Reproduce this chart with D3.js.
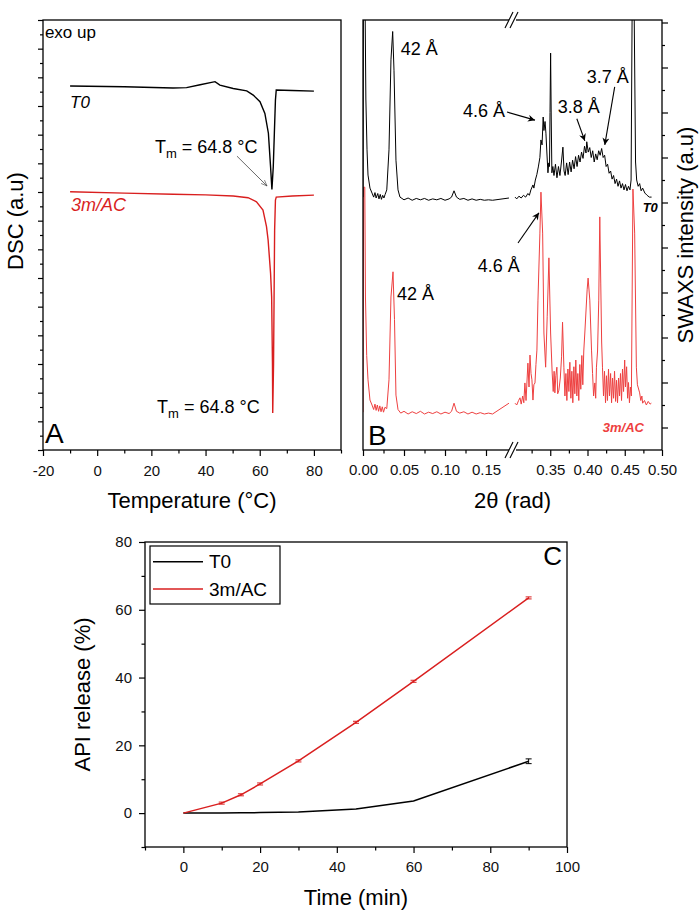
<!DOCTYPE html>
<html>
<head>
<meta charset="utf-8">
<script src="https://cdn.jsdelivr.net/npm/d3@7"></script>
<style>
  body { margin: 0; background: #fff; }
  svg { display: block; }
</style>
</head>
<body>
<script>
// ---------- panel A : DSC traces [temperature °C, signal a.u.] ----------
const dscT0 = [
  [-10, 12.70], [10, 12.67], [28, 12.63], [33, 12.64], [38, 12.74], [43.5, 12.85], [45.3, 12.73],
  [50.2, 12.61], [55.2, 12.53], [57.6, 12.38], [60.1, 12.15], [61.9, 11.74], [63.2, 11.05],
  [64.0, 9.88], [64.5, 9.09], [65.0, 9.88], [65.4, 11.05], [65.8, 12.21], [66.1, 12.56],
  [72, 12.54], [80, 12.52]
];
const dsc3m = [
  [-10, 9.01], [10, 8.96], [28, 8.92], [40, 8.90], [50.2, 8.86], [55.7, 8.80], [58.8, 8.66],
  [61.2, 8.37], [62.5, 7.79], [63.1, 7.32], [64.0, 6.17], [64.4, 5.34], [64.7, 3.0], [64.8, 1.29],
  [65.1, 3.0], [65.3, 5.34], [65.5, 7.67], [65.8, 8.72], [66.1, 8.82], [72, 8.86], [80, 8.89]
];
const dscXTicks = [-20, 0, 20, 40, 60, 80];

// ---------- panel B : SWAXS traces [2θ rad, intensity a.u.] ----------
const swaxsT0Low = [
  [0.000, 5.62], [0.0005, 10], [0.0025, 10], [0.0035, 7.8], [0.0049, 6.67], [0.0061, 6.11],
  [0.0085, 5.82], [0.011, 5.71], [0.013, 5.62], [0.0146, 5.72], [0.016, 5.60], [0.018, 5.70],
  [0.0195, 5.58], [0.021, 5.68], [0.0225, 5.57], [0.024, 5.66], [0.0255, 5.60], [0.027, 5.68],
  [0.029, 5.78], [0.0317, 6.67], [0.0341, 8.67], [0.0362, 9.30], [0.0378, 8.44], [0.0402, 6.44],
  [0.0427, 5.78], [0.0451, 5.62], [0.05, 5.56], [0.055, 5.60], [0.06, 5.55], [0.065, 5.59],
  [0.07, 5.56], [0.075, 5.59], [0.08, 5.55], [0.085, 5.58], [0.09, 5.56], [0.095, 5.59],
  [0.1, 5.55], [0.105, 5.58], [0.108, 5.62], [0.111, 5.76], [0.114, 5.62], [0.118, 5.57],
  [0.123, 5.59], [0.128, 5.55], [0.133, 5.58], [0.138, 5.55], [0.143, 5.57], [0.148, 5.55],
  [0.153, 5.56], [0.158, 5.55], [0.178, 5.60]
];
const swaxsT0High = [
  [0.3027, 5.62], [0.305, 5.58], [0.308, 5.64], [0.311, 5.60], [0.314, 5.66], [0.317, 5.62],
  [0.320, 5.70], [0.322, 5.66], [0.324, 5.78], [0.3268, 5.89], [0.328, 5.82], [0.330, 6.00],
  [0.332, 6.12], [0.334, 6.29], [0.3361, 6.50], [0.3375, 6.89], [0.339, 6.78], [0.3405, 7.40],
  [0.3415, 7.10], [0.343, 7.30], [0.3442, 7.04], [0.3455, 6.60], [0.3469, 6.16], [0.348, 6.38],
  [0.349, 6.30], [0.3497, 7.5], [0.3505, 8.82], [0.3513, 7.4], [0.3522, 6.16], [0.3535, 6.30],
  [0.355, 6.10], [0.357, 6.35], [0.359, 6.05], [0.361, 6.30], [0.363, 6.10], [0.365, 6.40],
  [0.367, 6.73], [0.3685, 6.20], [0.370, 6.10], [0.372, 6.38], [0.374, 6.12], [0.376, 6.40],
  [0.378, 6.18], [0.380, 6.44], [0.382, 6.25], [0.384, 6.52], [0.386, 6.30], [0.388, 6.55],
  [0.390, 6.40], [0.392, 6.62], [0.394, 6.48], [0.396, 6.75], [0.398, 6.60], [0.399, 6.85],
  [0.401, 6.62], [0.403, 6.72], [0.405, 6.50], [0.407, 6.65], [0.409, 6.40], [0.411, 6.58],
  [0.413, 6.45], [0.415, 6.65], [0.417, 6.55], [0.419, 6.70], [0.421, 6.50], [0.423, 6.55],
  [0.425, 6.30], [0.427, 6.35], [0.429, 6.15], [0.431, 6.20], [0.433, 6.02], [0.435, 6.10],
  [0.437, 5.92], [0.439, 6.02], [0.441, 5.86], [0.443, 5.98], [0.445, 5.82], [0.447, 5.92],
  [0.449, 5.78], [0.451, 5.90], [0.453, 5.76], [0.455, 5.86], [0.457, 5.78], [0.4585, 6.0],
  [0.4600, 10], [0.4625, 10], [0.4645, 6.40], [0.466, 6.00], [0.468, 5.86], [0.470, 5.92],
  [0.472, 5.76], [0.474, 5.82], [0.477, 5.71], [0.480, 5.66], [0.483, 5.62], [0.486, 5.62]
];
const swaxs3mLow = [
  [0.0, 0.84], [0.0008, 5.84], [0.0022, 5.84], [0.003, 3.4], [0.0045, 2.1], [0.0061, 1.56],
  [0.0085, 1.11], [0.011, 1.00], [0.013, 0.90], [0.0146, 1.02], [0.016, 0.88], [0.0175, 1.00],
  [0.019, 0.86], [0.0205, 0.98], [0.022, 0.85], [0.0235, 0.96], [0.025, 0.84], [0.0268, 0.95],
  [0.029, 0.92], [0.0317, 1.56], [0.0341, 3.4], [0.0366, 3.96], [0.0384, 2.9], [0.0402, 1.22],
  [0.0427, 0.90], [0.046, 0.82], [0.05, 0.86], [0.055, 0.80], [0.06, 0.85], [0.065, 0.81],
  [0.07, 0.86], [0.075, 0.80], [0.08, 0.84], [0.085, 0.81], [0.09, 0.85], [0.095, 0.80],
  [0.1, 0.84], [0.105, 0.81], [0.108, 0.86], [0.111, 1.04], [0.114, 0.86], [0.118, 0.82],
  [0.123, 0.85], [0.128, 0.80], [0.133, 0.84], [0.138, 0.80], [0.143, 0.83], [0.148, 0.80],
  [0.153, 0.82], [0.158, 0.80], [0.178, 1.04]
];
const swaxs3mHigh = [
  [0.3027, 1.04], [0.305, 1.00], [0.3075, 1.10], [0.3094, 1.16], [0.311, 1.02], [0.313, 1.20],
  [0.3145, 1.05], [0.316, 1.49], [0.3175, 1.10], [0.319, 1.60], [0.320, 1.93], [0.3215, 1.40],
  [0.3228, 2.11], [0.3242, 1.70], [0.3254, 1.56], [0.3268, 1.11], [0.328, 1.45], [0.3295, 1.49],
  [0.3308, 1.90], [0.3321, 2.22], [0.3335, 3.33], [0.3361, 4.82], [0.3375, 5.73], [0.3398, 4.82],
  [0.3415, 2.60], [0.3438, 1.84], [0.3459, 2.96], [0.3482, 4.27], [0.3505, 2.60], [0.3526, 1.71],
  [0.354, 1.30], [0.3552, 1.75], [0.3562, 1.27], [0.3575, 1.65], [0.3589, 1.84], [0.360, 1.25],
  [0.3616, 1.33], [0.3635, 1.60], [0.3652, 2.07], [0.3665, 2.84], [0.3683, 1.84], [0.3697, 1.20],
  [0.371, 1.70], [0.3723, 1.10], [0.3737, 1.80], [0.375, 1.30], [0.3763, 1.95], [0.3777, 1.15],
  [0.379, 1.75], [0.3803, 1.05], [0.3817, 1.85], [0.383, 1.25], [0.3843, 2.00], [0.3857, 1.20],
  [0.387, 1.70], [0.3883, 1.10], [0.3897, 1.90], [0.391, 1.35], [0.3924, 2.10], [0.3937, 1.45],
  [0.395, 2.20], [0.3964, 2.60], [0.3995, 3.56], [0.4008, 3.82], [0.4031, 3.33], [0.4054, 2.22],
  [0.4068, 1.70], [0.4082, 1.20], [0.4098, 1.49], [0.411, 1.15], [0.412, 1.84], [0.4135, 2.20],
  [0.4151, 3.33], [0.4165, 5.18], [0.4178, 3.71], [0.419, 2.40], [0.4201, 1.84], [0.4215, 1.20],
  [0.4228, 1.75], [0.4242, 1.05], [0.4255, 1.65], [0.4268, 1.10], [0.4282, 1.80], [0.4295, 1.20],
  [0.431, 1.70], [0.4323, 1.05], [0.4336, 1.60], [0.435, 1.15], [0.4363, 1.75], [0.4377, 1.08],
  [0.439, 1.55], [0.4403, 1.05], [0.4417, 1.60], [0.443, 1.20], [0.4443, 1.70], [0.4457, 1.10],
  [0.447, 1.80], [0.4484, 1.30], [0.4499, 2.00], [0.451, 1.40], [0.4525, 1.85], [0.4538, 1.15],
  [0.455, 1.50], [0.4563, 1.05], [0.4576, 1.40], [0.4589, 1.20], [0.461, 5.8], [0.4633, 4.82],
  [0.4656, 1.84], [0.467, 1.45], [0.47, 1.27], [0.4715, 1.10], [0.473, 1.20], [0.474, 1.04],
  [0.4765, 1.10], [0.479, 1.00], [0.4815, 1.08], [0.484, 1.02], [0.4857, 1.04]
];
const swaxsTicksLow = [0, 0.05, 0.10, 0.15];
const swaxsTicksHigh = [0.35, 0.40, 0.45, 0.50];

// ---------- panel C : release profiles ----------
const releaseTime = [0, 10, 15, 20, 30, 45, 60, 90];
const releaseT0 = [0, 0.05, 0.1, 0.15, 0.35, 1.2, 3.6, 15.3];
const releaseT0Err = [0, 0, 0, 0, 0, 0, 0, 0.7];
const release3m = [0, 2.95, 5.4, 8.6, 15.4, 26.8, 38.9, 63.5];
const release3mErr = [0, 0.3, 0.3, 0.3, 0.3, 0.3, 0.3, 0.3];
const releaseNames = ['T0', '3m/AC'];
const releaseXTicks = [0, 20, 40, 60, 80, 100];
const releaseYTicks = [0, 20, 40, 60, 80];

const RED = '#d91f1f';
const RED_B = '#ee4040';
const W = 699, H = 924;

const svg = d3.select('body').append('svg')
  .attr('width', W).attr('height', H)
  .style('font-family', '"Liberation Sans", Arial, Helvetica, sans-serif');

const defs = svg.append('defs');
defs.append('marker').attr('id', 'headB')
  .attr('viewBox', '0 0 10 10').attr('refX', 10).attr('refY', 5)
  .attr('markerWidth', 10).attr('markerHeight', 7).attr('markerUnits', 'userSpaceOnUse')
  .attr('orient', 'auto')
  .append('path').attr('d', 'M0,0 L10,5 L0,10 L3,5 Z').attr('fill', '#000');
defs.append('marker').attr('id', 'headA')
  .attr('viewBox', '0 0 10 10').attr('refX', 10).attr('refY', 5)
  .attr('markerWidth', 7).attr('markerHeight', 6).attr('markerUnits', 'userSpaceOnUse')
  .attr('orient', 'auto')
  .append('path').attr('d', 'M0,1 L10,5 L0,9').attr('fill', 'none').attr('stroke', '#444');

function addAxis(axis, transform, size) {
  const g = svg.append('g').attr('transform', transform).call(axis);
  g.attr('font-family', null).attr('font-size', size || 15);
  g.select('.domain').remove();
  g.selectAll('line').attr('stroke', '#000').attr('stroke-width', 1.2);
  g.selectAll('text').attr('fill', '#111');
  return g;
}
function frame(b) {
  svg.append('rect').attr('x', b.x0).attr('y', b.y0)
    .attr('width', b.x1 - b.x0).attr('height', b.y1 - b.y0)
    .attr('fill', 'none').attr('stroke', '#000').attr('stroke-width', 1.3);
}
function label(x, y, txt, size, opts) {
  opts = opts || {};
  return svg.append('text').attr('x', x).attr('y', y)
    .attr('font-size', size)
    .attr('fill', opts.fill || '#000')
    .attr('font-style', opts.italic ? 'italic' : null)
    .attr('font-weight', opts.bold ? 'bold' : null)
    .attr('text-anchor', opts.anchor || 'start')
    .text(txt);
}

// ===================== Panel A =====================
const boxA = { x0: 43, x1: 341, y0: 20, y1: 450 };
const xA = d3.scaleLinear().domain([-20, 90]).range([boxA.x0, boxA.x1]);
const yA = d3.scaleLinear().domain([0, 15]).range([boxA.y1, boxA.y0]);

addAxis(d3.axisBottom(xA).tickValues(dscXTicks).tickSize(6).tickPadding(9).tickFormat(d => String(d)),
  `translate(0,${boxA.y1})`);
addAxis(d3.axisBottom(xA).tickValues([-10, 10, 30, 50, 70, 90]).tickSize(3.5).tickFormat(''),
  `translate(0,${boxA.y1})`);
addAxis(d3.axisLeft(yA).tickValues(d3.range(0, 15.5, 1)).tickSize(5).tickFormat(''),
  `translate(${boxA.x0},0)`);
addAxis(d3.axisLeft(yA).tickValues(d3.range(0.5, 15, 1)).tickSize(3).tickFormat(''),
  `translate(${boxA.x0},0)`);

const lineA = d3.line().x(d => xA(d[0])).y(d => yA(d[1]));
svg.append('path').datum(dscT0).attr('d', lineA).attr('fill', 'none').attr('stroke', '#000').attr('stroke-width', 1.4);
svg.append('path').datum(dsc3m).attr('d', lineA).attr('fill', 'none').attr('stroke', RED).attr('stroke-width', 1.4);
frame(boxA);

label(xA(-19.3), yA(14.37), 'exo up', 17);
label(xA(-10), yA(11.93), 'T0', 17, { italic: true });
label(xA(-9.7), yA(8.34), '3m/AC', 18, { italic: true, fill: RED });
label(-25, -5, '', 1);
function tmLabel(x, y) {
  const t = svg.append('text').attr('x', x).attr('y', y).attr('font-size', 18).attr('fill', '#000');
  t.append('tspan').text('T');
  t.append('tspan').attr('dy', 5).attr('font-size', 13).text('m');
  t.append('tspan').attr('dy', -5).text(' = 64.8 °C');
}
tmLabel(xA(21.3), yA(10.36));
tmLabel(xA(22.1), yA(1.29));
svg.append('line')
  .attr('x1', xA(51.6)).attr('y1', yA(10.25)).attr('x2', xA(62.7)).attr('y2', yA(9.21))
  .attr('stroke', '#444').attr('stroke-width', 0.8).attr('marker-end', 'url(#headA)');
label(xA(-19.3), yA(0.24), 'A', 28);

svg.append('text').attr('x', (boxA.x0 + boxA.x1) / 2).attr('y', 508)
  .attr('text-anchor', 'middle').attr('font-size', 22).text('Temperature (°C)');
svg.append('text').attr('transform', 'translate(23,221) rotate(-90)')
  .attr('text-anchor', 'middle').attr('font-size', 22).text('DSC (a.u)');

// ===================== Panel B =====================
const boxB = { x0: 363, x1: 662, y0: 20, y1: 450 };
const xB1 = d3.scaleLinear().domain([0, 0.18]).range([363, 510.6]);
const xB2 = d3.scaleLinear().domain([0.30, 0.50]).range([513, 662]);
const xB = v => (v < 0.24 ? xB1(v) : xB2(v));
const yB = d3.scaleLinear().domain([0, 430 / 45]).range([boxB.y1, boxB.y0]);

addAxis(d3.axisBottom(xB1).tickValues(swaxsTicksLow).tickSize(6).tickPadding(8).tickFormat(d3.format('.2f')),
  `translate(0,${boxB.y1})`);
addAxis(d3.axisBottom(xB2).tickValues(swaxsTicksHigh).tickSize(6).tickPadding(8).tickFormat(d3.format('.2f')),
  `translate(0,${boxB.y1})`);
addAxis(d3.axisBottom(xB1).tickValues([0.025, 0.075, 0.125]).tickSize(3.5).tickFormat(''),
  `translate(0,${boxB.y1})`);
addAxis(d3.axisBottom(xB2).tickValues([0.325, 0.375, 0.425, 0.475]).tickSize(3.5).tickFormat(''),
  `translate(0,${boxB.y1})`);
addAxis(d3.axisRight(yB).tickValues(d3.range(0.5, 9.6, 1)).tickSize(6).tickFormat(''),
  `translate(${boxB.x1},0)`);
addAxis(d3.axisRight(yB).tickValues(d3.range(1, 9.6, 1)).tickSize(3).tickFormat(''),
  `translate(${boxB.x1},0)`);

defs.append('clipPath').attr('id', 'clipB').append('rect')
  .attr('x', boxB.x0).attr('y', boxB.y0).attr('width', boxB.x1 - boxB.x0).attr('height', boxB.y1 - boxB.y0);
const gB = svg.append('g').attr('clip-path', 'url(#clipB)');
const lineB = d3.line().x(d => xB(d[0])).y(d => yB(d[1]));
[[swaxs3mLow, RED_B], [swaxs3mHigh, RED_B], [swaxsT0Low, '#000'], [swaxsT0High, '#000']].forEach(([data, c]) => {
  gB.append('path').datum(data).attr('d', lineB)
    .attr('fill', 'none').attr('stroke', c).attr('stroke-width', 1).attr('stroke-linejoin', 'round');
});
frame(boxB);

// axis break marks
[boxB.y0, boxB.y1].forEach(y => {
  svg.append('rect').attr('x', 509).attr('y', y - 2).attr('width', 7).attr('height', 4).attr('fill', '#fff');
  [0, 5].forEach(dx => {
    svg.append('line').attr('x1', 505 + dx).attr('y1', y + 8).attr('x2', 513 + dx).attr('y2', y - 8)
      .attr('stroke', '#000').attr('stroke-width', 1.1);
  });
});

label(xB(0.046), yB(8.78), '42 Å', 18);
label(xB(0.122), yB(7.4), '4.6 Å', 18);
label(xB(0.3602), yB(7.49), '3.8 Å', 18);
label(xB(0.399), yB(8.16), '3.7 Å', 18);
label(xB(0.140), yB(3.96), '4.6 Å', 18);
label(xB(0.0415), yB(3.33), '42 Å', 18);
label(xB(0.474), yB(5.29), 'T0', 13, { italic: true, bold: true });
label(xB(0.4205), yB(0.4), '3m/AC', 13, { italic: true, bold: true, fill: RED_B });
label(xB(0.006), yB(0.11), 'B', 28);

const arrowsB = [
  [0.1756, 7.51, 0.3295, 7.33],
  [0.3857, 7.36, 0.3964, 6.87],
  [0.4365, 8.07, 0.4232, 6.78],
  [0.3067, 4.6, 0.3348, 5.27]
];
arrowsB.forEach(a => {
  svg.append('line').attr('x1', xB(a[0])).attr('y1', yB(a[1])).attr('x2', xB(a[2])).attr('y2', yB(a[3]))
    .attr('stroke', '#000').attr('stroke-width', 1.1).attr('marker-end', 'url(#headB)');
});

svg.append('text').attr('x', (boxB.x0 + boxB.x1) / 2).attr('y', 508)
  .attr('text-anchor', 'middle').attr('font-size', 22).text('2θ (rad)');
svg.append('text').attr('transform', 'translate(693,235) rotate(-90)')
  .attr('text-anchor', 'middle').attr('font-size', 22).text('SWAXS intensity (a.u)');

// ===================== Panel C =====================
const boxC = { x0: 145, x1: 567, y0: 542, y1: 847 };
const xC = d3.scaleLinear().domain([-10, 100]).range([boxC.x0, boxC.x1]);
const yC = d3.scaleLinear().domain([-10, 80]).range([boxC.y1, boxC.y0]);

addAxis(d3.axisBottom(xC).tickValues(releaseXTicks).tickSize(6).tickPadding(8).tickFormat(d => String(d)),
  `translate(0,${boxC.y1})`);
addAxis(d3.axisBottom(xC).tickValues([-10, 10, 30, 50, 70, 90]).tickSize(3.5).tickFormat(''),
  `translate(0,${boxC.y1})`);
addAxis(d3.axisLeft(yC).tickValues(releaseYTicks).tickSize(6).tickPadding(7).tickFormat(d => String(d)),
  `translate(${boxC.x0},0)`);
addAxis(d3.axisLeft(yC).tickValues([-10, 10, 30, 50, 70]).tickSize(3.5).tickFormat(''),
  `translate(${boxC.x0},0)`);

const seriesC = [
  { name: releaseNames[0], vals: releaseT0, err: releaseT0Err, color: '#000' },
  { name: releaseNames[1], vals: release3m, err: release3mErr, color: RED }
];
const lineC = d3.line().x(d => xC(d.t)).y(d => yC(d.v));
seriesC.forEach(s => {
  const pts = releaseTime.map((t, i) => ({ t, v: s.vals[i], e: s.err[i] }));
  svg.append('path').datum(pts).attr('d', lineC).attr('fill', 'none')
    .attr('stroke', s.color).attr('stroke-width', 1.5);
  const eb = svg.append('g').attr('stroke', s.color).attr('stroke-width', 1);
  pts.filter(p => p.e > 0).forEach(p => {
    const x = xC(p.t), y0 = yC(p.v - p.e), y1 = yC(p.v + p.e);
    eb.append('line').attr('x1', x).attr('x2', x).attr('y1', y0).attr('y2', y1);
    eb.append('line').attr('x1', x - 3).attr('x2', x + 3).attr('y1', y0).attr('y2', y0);
    eb.append('line').attr('x1', x - 3).attr('x2', x + 3).attr('y1', y1).attr('y2', y1);
  });
});
frame(boxC);

const leg = svg.append('g').attr('transform', `translate(${boxC.x0 + 5},${boxC.y0 + 4})`);
leg.append('rect').attr('width', 130).attr('height', 58).attr('fill', '#fff')
  .attr('stroke', '#000').attr('stroke-width', 1.2);
seriesC.forEach((s, i) => {
  leg.append('line').attr('x1', 3).attr('x2', 53).attr('y1', 15.7 + i * 27.3).attr('y2', 15.7 + i * 27.3)
    .attr('stroke', s.color).attr('stroke-width', 1.5);
  leg.append('text').attr('x', 59).attr('y', 22 + i * 28).attr('font-size', 19).text(s.name);
});
label(xC(93.8), yC(73.3), 'C', 26);

svg.append('text').attr('x', (boxC.x0 + boxC.x1) / 2).attr('y', 905)
  .attr('text-anchor', 'middle').attr('font-size', 22).text('Time (min)');
svg.append('text').attr('transform', `translate(90,${(boxC.y0 + boxC.y1) / 2}) rotate(-90)`)
  .attr('text-anchor', 'middle').attr('font-size', 22).text('API release (%)');
</script>
</body>
</html>
